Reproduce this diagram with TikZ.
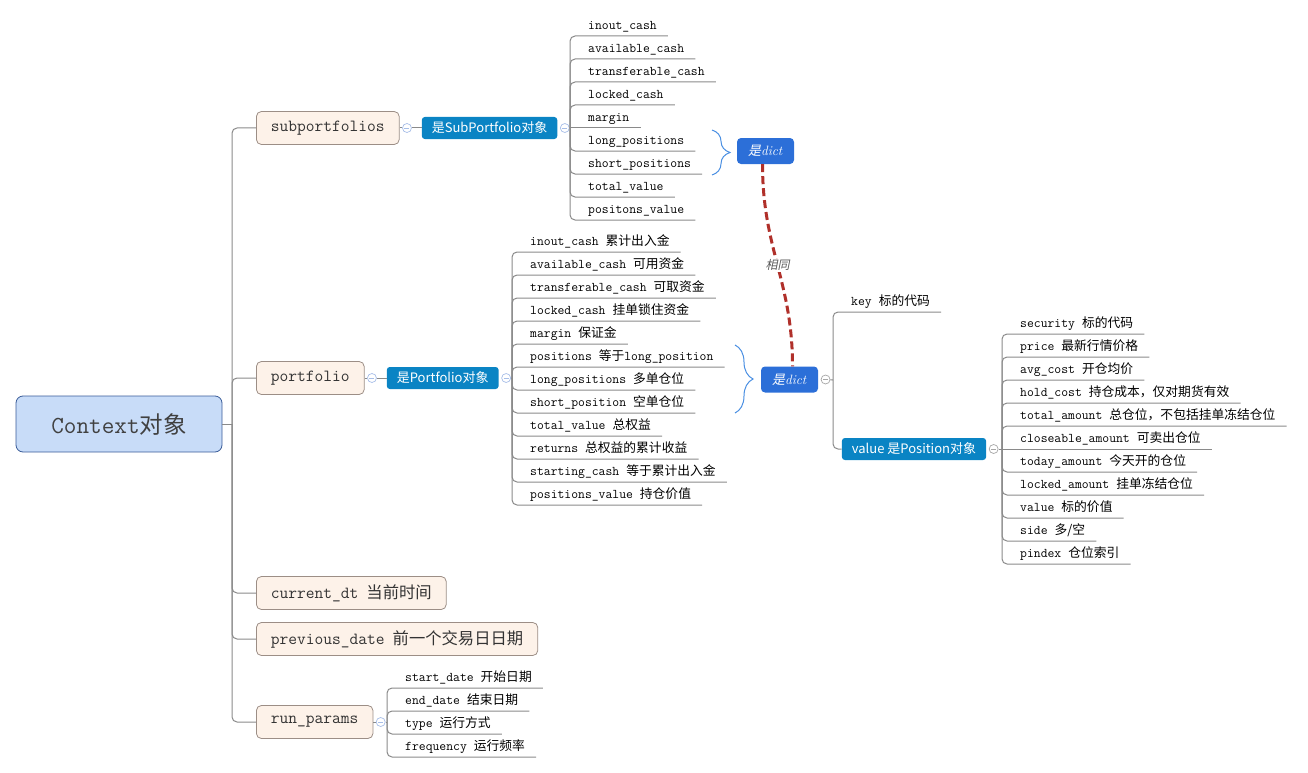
\documentclass[tikz,border=0pt]{standalone}
\usepackage{fontspec}
\usepackage{xcolor}
\usepackage{tikz}
\usetikzlibrary{positioning, decorations.pathreplacing}

\newfontfamily\cjk[Scale=0.96]{Noto Sans CJK SC}
\newfontfamily\cjkit[Scale=0.96,FakeSlant=0.2]{Noto Sans CJK SC}
\newfontfamily\yahei{Noto Sans CJK SC}

\definecolor{rootfill}{HTML}{C8DCF8}
\definecolor{rootline}{HTML}{3A5C98}
\definecolor{topicfill}{HTML}{FDF2E9}
\definecolor{topicline}{HTML}{9C8E86}
\definecolor{tagblue}{HTML}{0A84C4}
\definecolor{dictblue}{HTML}{2C6FD8}
\definecolor{branchgray}{HTML}{8A8A8A}
\definecolor{bracecol}{HTML}{4A8FE2}
\definecolor{samered}{HTML}{B0302A}
\definecolor{foldblue}{HTML}{A7BEE8}

\newcommand{\fld}[2]{\texttt{#1}\hspace{7pt}{\cjk #2}}

\tikzset{
  rootbox/.style={draw=rootline, fill=rootfill, line width=0.8pt, rounded corners=7pt,
    minimum width=206pt, minimum height=56pt, text=black!75,
    font=\fontsize{24.5}{28}\selectfont},
  topic/.style={draw=topicline, fill=topicfill, line width=0.8pt, rounded corners=5pt,
    minimum height=33pt, inner xsep=14.5pt, anchor=west, text=black!80,
    font=\fontsize{17}{20}\selectfont},
  tag/.style={fill=tagblue, rounded corners=3pt, text=white, minimum height=22pt,
    inner xsep=10pt, inner ysep=0pt, font=\yahei\fontsize{13}{15}\selectfont},
  dictbox/.style={fill=dictblue, rounded corners=4pt, text=white, minimum width=57pt,
    minimum height=26pt, font=\fontsize{13.5}{15}\selectfont},
  field/.style={anchor=south west, inner xsep=11pt, inner ysep=3pt, text height=10pt,
    text depth=3pt, font=\fontsize{13.3}{15}\selectfont},
  branch/.style={draw=branchgray, line width=1pt, rounded corners=5pt},
  fold/.style={circle, draw=#1, fill=white, minimum size=9pt, inner sep=0pt, line width=0.7pt,
    path picture={\draw[#1, line width=0.7pt] ([xshift=-2.5pt]path picture bounding box.center)
      -- ([xshift=2.5pt]path picture bounding box.center);}},
  fold/.default=foldblue,
  bracket/.style={draw=bracecol, line width=1pt, decorate, decoration={brace, amplitude=18pt}}
}

\begin{document}
\begin{tikzpicture}[x=1pt, y=-1pt]
    \useasboundingbox (0,0) rectangle (1308,773);

    % Root
    \node[rootbox] (ctx) at (119,424) {\texttt{Context}{\cjk 对象}};
    \coordinate (trunk) at (232,424);

    % First level
    \node[topic] (subp) at (256,128) {\texttt{subportfolios}};
    \node[topic] (port) at (256,378) {\texttt{portfolio}};
    \node[topic] (curdt) at (256,593) {\texttt{current\_dt}\hspace{8pt}{\cjk 当前时间}};
    \node[topic] (prevd) at (256,639) {\texttt{previous\_date}\hspace{8pt}{\cjk 前一个交易日日期}};
    \node[topic] (runp) at (256,722) {\texttt{run\_params}};

    \draw[branch] (ctx.east) -- (trunk);
    \foreach \t in {subp,port,curdt,prevd,runp}
        \draw[branch] (trunk) |- (\t.west);

    % subportfolios
    \node[fold] (subpfold) [right=2.5pt of subp] {};
    \node[tag] (subptag) [right=22pt of subp] {是SubPortfolio对象};
    \node[fold] (subptagfold) [right=2.5pt of subptag] {};
    \draw[branch] (subp) -- (subpfold);
    \draw[branch] (subpfold) -- (subptag);
    \coordinate (sphub) at (570,128);
    \foreach \t [count=\i] in {inout\_cash, available\_cash, transferable\_cash, locked\_cash,
        margin, long\_positions, short\_positions, total\_value, positons\_value}
        \node[field] (sp\i) at (577, 13+23*\i) {\texttt{\t}};
    \draw[branch] (subptagfold) -- (sp5.south east);
    \foreach \i in {1,2,3,4,6,7,8,9}
        \draw[branch] (sphub) -- (sphub |- sp\i.south) -- (sp\i.south east);
    \draw[bracket] (712,130) -- (712,175);
    \node[dictbox] (dict1) at (765.5,151) {{\cjkit 是}\textit{dict}};

    % portfolio
    \node[fold] (portfold) [right=2.5pt of port] {};
    \node[tag] (porttag) [right=22pt of port] {是Portfolio对象};
    \node[fold] (porttagfold) [right=2.5pt of porttag] {};
    \draw[branch] (port) -- (portfold);
    \draw[branch] (portfold) -- (porttag);
    \coordinate (pfhub) at (512,378);
    \draw[branch] (porttagfold) -- (pfhub);
    \foreach \t [count=\i] in {
        {\fld{inout\_cash}{累计出入金}},
        {\fld{available\_cash}{可用资金}},
        {\fld{transferable\_cash}{可取资金}},
        {\fld{locked\_cash}{挂单锁住资金}},
        {\fld{margin}{保证金}},
        {\fld{positions}{等于\texttt{long\_position}}},
        {\fld{long\_positions}{多单仓位}},
        {\fld{short\_position}{空单仓位}},
        {\fld{total\_value}{总权益}},
        {\fld{returns}{总权益的累计收益}},
        {\fld{starting\_cash}{等于累计出入金}},
        {\fld{positions\_value}{持仓价值}}}
        \node[field] (pf\i) at (519, 229+23*\i) {\t};
    \foreach \i in {1,...,12}
        \draw[branch] (pfhub) -- (pfhub |- pf\i.south) -- (pf\i.south east);
    \draw[bracket] (735,345) -- (735,413);
    \node[dictbox] (dict2) at (789.5,379.5) {{\cjkit 是}\textit{dict}};

    % same dict
    \draw[samered, line width=3pt, dash pattern=on 8pt off 4pt]
        ([xshift=-3pt]dict1.south) .. controls +(0,85) and +(0,-85) .. ([xshift=3pt]dict2.north)
        node[pos=0.5, fill=white, inner sep=1pt, text=black!65,
             font=\cjkit\fontsize{12.5}{14}\selectfont] (same) {相同};

    % key / value
    \node[fold=gray!70] (dict2fold) [right=2.5pt of dict2] {};
    \coordinate (kvhub) at (833,380);
    \draw[branch] (dict2fold) -- (kvhub);
    \node[field] (key) at (840,312) {\fld{key}{标的代码}};
    \draw[branch] (kvhub) -- (kvhub |- key.south) -- (key.south east);
    \node[tag] (valtag) at (914,449) {value 是Position对象};
    \draw[branch] (kvhub) |- (valtag.west);

    % Position
    \node[fold=gray!70] (valfold) [right=2.5pt of valtag] {};
    \coordinate (pshub) at (1002,449);
    \foreach \t [count=\i] in {
        {\fld{security}{标的代码}},
        {\fld{price}{最新行情价格}},
        {\fld{avg\_cost}{开仓均价}},
        {\fld{hold\_cost}{持仓成本，仅对期货有效}},
        {\fld{total\_amount}{总仓位，不包括挂单冻结仓位}},
        {\fld{closeable\_amount}{可卖出仓位}},
        {\fld{today\_amount}{今天开的仓位}},
        {\fld{locked\_amount}{挂单冻结仓位}},
        {\fld{value}{标的价值}},
        {\fld{side}{多/空}},
        {\fld{pindex}{仓位索引}}}
        \node[field] (ps\i) at (1009, 311+23*\i) {\t};
    \draw[branch] (valfold) -- (ps6.south east);
    \foreach \i in {1,2,3,4,5,7,8,9,10,11}
        \draw[branch] (pshub) -- (pshub |- ps\i.south) -- (ps\i.south east);

    % run_params
    \node[fold] (runpfold) [right=2.5pt of runp] {};
    \coordinate (rphub) at (387,722);
    \draw[branch] (runp) -- (runpfold);
    \draw[branch] (runpfold) -- (rphub);
    \foreach \t [count=\i] in {
        {\fld{start\_date}{开始日期}},
        {\fld{end\_date}{结束日期}},
        {\fld{type}{运行方式}},
        {\fld{frequency}{运行频率}}}
        \node[field] (rp\i) at (394, 665+23*\i) {\t};
    \foreach \i in {1,...,4}
        \draw[branch] (rphub) -- (rphub |- rp\i.south) -- (rp\i.south east);
\end{tikzpicture}
\end{document}
